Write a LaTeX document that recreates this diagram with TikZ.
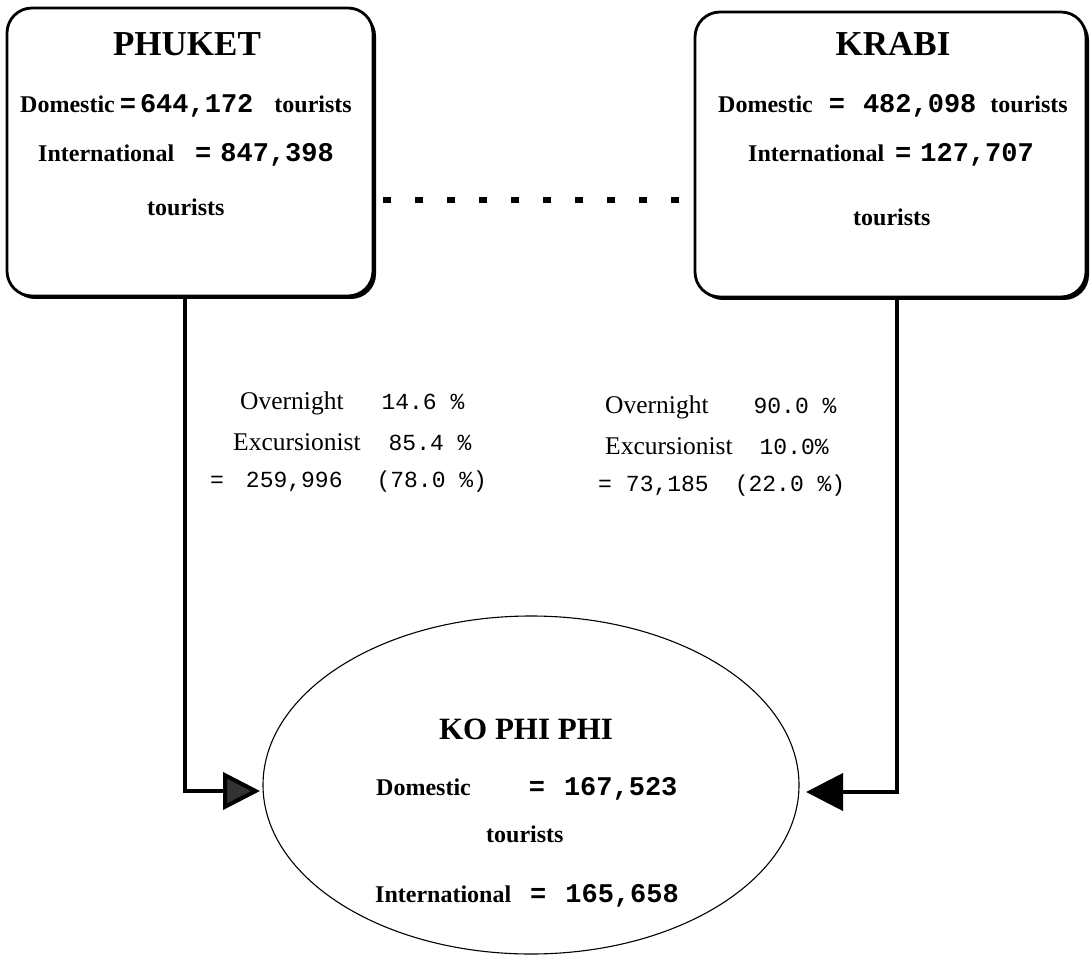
\documentclass[tikz,border=0pt]{standalone}
\usepackage{fontspec}
\newfontfamily\tnr{Liberation Serif}
\newfontfamily\cour{Liberation Mono}
\usetikzlibrary{shadows,arrows.meta,shapes.geometric}
\newcommand{\nb}[1]{{\cour\bfseries\fontsize{27}{30}\selectfont #1}}
\newcommand{\nm}[1]{{\cour\fontsize{23}{28}\selectfont #1}}
\begin{document}
\begin{tikzpicture}[x=1pt,y=-1pt,
  cbox/.style={draw, line width=2.8pt, rounded corners=25pt, fill=white,
    drop shadow={shadow xshift=3pt, shadow yshift=-3pt, opacity=1, fill=black}},
  ttl/.style={font=\tnr\bfseries\fontsize{35}{40}\selectfont, inner sep=0pt},
  etl/.style={font=\tnr\bfseries\fontsize{31}{36}\selectfont, inner sep=0pt},
  btxt/.style={font=\tnr\bfseries\fontsize{24}{28}\selectfont, inner sep=0pt, anchor=west},
  mtxt/.style={font=\tnr\fontsize{25.5}{30}\selectfont, inner sep=0pt, anchor=west},
  conn/.style={line width=4pt},
  dashline/.style={line width=6pt, dash pattern=on 8pt off 24pt},
  isle/.style={ellipse, draw, line width=1.1pt, minimum width=536pt, minimum height=338pt, inner sep=0pt}
]
\useasboundingbox (0,0) rectangle (1091,957);

% boxes
\node[cbox, minimum width=366pt, minimum height=288pt] (phuket) at (190,152) {};
\node[cbox, minimum width=391pt, minimum height=285pt] (krabi) at (890.5,154.5) {};
\node[isle] (kpp) at (531,785) {};

% dashed link
\coordinate (dl) at (383,200);
\coordinate (dr) at (680,200);
\draw[dashline] (dl) -- (dr);

% PHUKET text
\node[ttl] (pt) at (187,44) {PHUKET};
\node[btxt] (pd) at (20,106) {Domestic\hspace{5pt}\nb{=}\hspace{4pt}\nb{644,172}\hspace{21pt}tourists};
\node[btxt] (pi) at (38,155) {International\hspace{21pt}\nb{=}\hspace{9pt}\nb{847,398}};
\node[btxt] (pu) at (147,207) {tourists};

% KRABI text
\node[ttl] (kt) at (893,44) {KRABI};
\node[btxt] (kd) at (718,106) {Domestic\hspace{16pt}\nb{=}\hspace{18pt}\nb{482,098}\hspace{14pt}tourists};
\node[btxt] (ki) at (748,155) {International\hspace{11pt}\nb{=}\hspace{9pt}\nb{127,707}};
\node[btxt] (ku) at (853,217) {tourists};

% middle texts
\node[mtxt] (lo) at (240,403) {Overnight\hspace{38pt}\nm{14.6 \%}};
\node[mtxt] (le) at (233,442) {Excursionist\hspace{28pt}\nm{85.4 \%}};
\node[mtxt] (lr) at (210,482) {\nm{=}\hspace{22pt}\nm{259,996}\hspace{34pt}\nm{(78.0 \%)}};
\node[mtxt] (ro) at (605,407) {Overnight\hspace{45pt}\nm{90.0 \%}};
\node[mtxt] (re) at (605,446) {Excursionist\hspace{27pt}\nm{10.0\%}};
\node[mtxt] (rr) at (598,486) {\nm{=}\hspace{14pt}\nm{73,185}\hspace{26pt}\nm{(22.0 \%)}};

% KO PHI PHI text
\node[etl] (et) at (526,729) {KO PHI PHI};
\node[btxt] (ed) at (376,789) {Domestic\hspace{58pt}\nb{=}\hspace{19pt}\nb{167,523}};
\node[btxt] (eu) at (486,834) {tourists};
\node[btxt] (ei) at (375,896) {International\hspace{19pt}\nb{=}\hspace{19pt}\nb{165,658}};

% connectors
\coordinate (lefttip) at (260,791);
\coordinate (righttip) at (806,792);
\draw[conn, -{Triangle[length=37pt,width=37pt,fill=black!80]}] ([xshift=-5pt]phuket.south) |- (lefttip);
\draw[conn, -{Triangle[length=37pt,width=37pt]}] ([xshift=6.5pt]krabi.south) |- (righttip);
\end{tikzpicture}
\end{document}
